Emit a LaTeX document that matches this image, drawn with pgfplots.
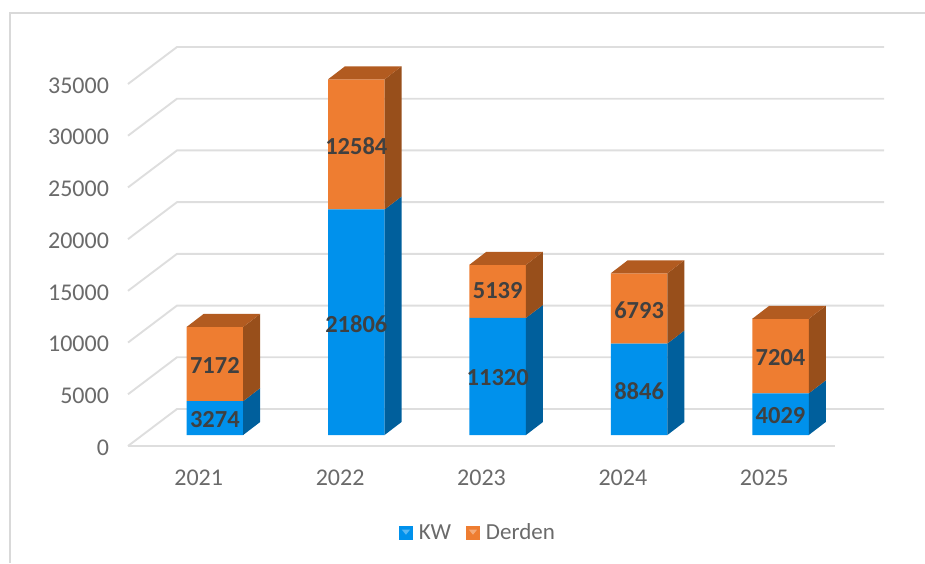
\documentclass[border=0pt]{standalone}
\usepackage{pgfplots}
\pgfplotsset{compat=1.18}
\usepackage{fontspec}
\setmainfont{Carlito}
\definecolor{gridc}{HTML}{DEDEDE}
\definecolor{framec}{HTML}{D9D9D9}
\definecolor{tickc}{HTML}{6A6A6A}
\definecolor{labc}{HTML}{404040}
\definecolor{bluef}{HTML}{0091EC}
\definecolor{blues}{HTML}{005F9C}
\definecolor{orangef}{HTML}{EE7D31}
\definecolor{oranges}{HTML}{984F1B}
\definecolor{oranget}{HTML}{B25B20}
\pgfplotsset{
  base/.style={scale only axis,width=707pt,height=362pt,
    xmin=-0.5,xmax=4.5,ymin=0,ymax=35000,clip=false},
  swatch/.style={legend image code/.code={
    \fill[##1] (0pt,-7.5pt) rectangle (14pt,7pt);
    \fill[white,opacity=.35] (3pt,3pt) -- (11pt,3pt) -- (7pt,-2pt) -- cycle;}},
  gl/.style={draw=gridc,line width=1.9pt,mark=none},
}
\begin{document}
\begin{tikzpicture}[x=1pt,y=1pt]
\path[use as bounding box] (0,0) rectangle (925,563);
\draw[framec,line width=2pt] (10,0) -- (10,550) -- (925,550);
% wall and floor
\begin{axis}[base,at={(128pt,117pt)},anchor=south west,
  axis line style={draw=none},major tick length=0pt,
  scaled y ticks=false,
  xtick={0,1,2,3,4},xticklabels={2021,2022,2023,2024,2025},
  ytick={0,5000,10000,15000,20000,25000,30000,35000},
  tick label style={font=\fontsize{24}{26}\selectfont,text=tickc},
  yticklabel style={xshift=-15.5pt,yshift=-1.5pt},
  xticklabel style={yshift=-20pt},
  /pgf/number format/.cd,fixed,1000 sep={},assume math mode=true]
\addplot[gl] coordinates {(-0.5,0) (4.5,0)};
\addplot[gl] coordinates {(-0.5,0) (-0.1535,3578) (4.8465,3578)};
\addplot[gl] coordinates {(-0.5,5000) (-0.1535,8578) (4.8465,8578)};
\addplot[gl] coordinates {(-0.5,10000) (-0.1535,13578) (4.8465,13578)};
\addplot[gl] coordinates {(-0.5,15000) (-0.1535,18578) (4.8465,18578)};
\addplot[gl] coordinates {(-0.5,20000) (-0.1535,23578) (4.8465,23578)};
\addplot[gl] coordinates {(-0.5,25000) (-0.1535,28578) (4.8465,28578)};
\addplot[gl] coordinates {(-0.5,30000) (-0.1535,33578) (4.8465,33578)};
\addplot[gl] coordinates {(-0.5,35000) (-0.1535,38578) (4.8465,38578)};
\end{axis}
% front faces
\begin{axis}[base,at={(144.2pt,128pt)},anchor=south west,hide axis,
  ybar stacked,bar width=56.5pt,
  legend columns=2,swatch,
  legend style={draw=none,fill=none,at={(0.472,-0.27)},anchor=center,
    font=\fontsize{23}{26}\selectfont,text=tickc,
    /tikz/every odd column/.append style={column sep=4pt},
    /tikz/every even column/.append style={column sep=13pt}}]
\addplot[fill=bluef,draw=none] coordinates {(0,3274) (1,21806) (2,11320) (3,8846) (4,4029)};
\addlegendentry{KW}
\addplot[fill=orangef,draw=none] coordinates {(0,7172) (1,12584) (2,5139) (3,6793) (4,7204)};
\addlegendentry{Derden}
\end{axis}
% side and top faces, data labels
\begin{axis}[base,at={(144.2pt,128pt)},anchor=south west,hide axis]
\pgfplotsset{every axis plot/.append style={mark=none,draw=none}}
\addplot[fill=blues] coordinates {(0.2,0) (0.32,1257) (0.32,4531) (0.2,3274)};
\addplot[fill=oranges] coordinates {(0.2,3274) (0.32,4531) (0.32,11703) (0.2,10446)};
\addplot[fill=oranget] coordinates {(-0.2,10446) (-0.08,11703) (0.32,11703) (0.2,10446)};
\addplot[fill=blues] coordinates {(1.2,0) (1.32,1257) (1.32,23063) (1.2,21806)};
\addplot[fill=oranges] coordinates {(1.2,21806) (1.32,23063) (1.32,35647) (1.2,34390)};
\addplot[fill=oranget] coordinates {(0.8,34390) (0.92,35647) (1.32,35647) (1.2,34390)};
\addplot[fill=blues] coordinates {(2.2,0) (2.32,1257) (2.32,12577) (2.2,11320)};
\addplot[fill=oranges] coordinates {(2.2,11320) (2.32,12577) (2.32,17716) (2.2,16459)};
\addplot[fill=oranget] coordinates {(1.8,16459) (1.92,17716) (2.32,17716) (2.2,16459)};
\addplot[fill=blues] coordinates {(3.2,0) (3.32,1257) (3.32,10103) (3.2,8846)};
\addplot[fill=oranges] coordinates {(3.2,8846) (3.32,10103) (3.32,16896) (3.2,15639)};
\addplot[fill=oranget] coordinates {(2.8,15639) (2.92,16896) (3.32,16896) (3.2,15639)};
\addplot[fill=blues] coordinates {(4.2,0) (4.32,1257) (4.32,5286) (4.2,4029)};
\addplot[fill=oranges] coordinates {(4.2,4029) (4.32,5286) (4.32,12490) (4.2,11233)};
\addplot[fill=oranget] coordinates {(3.8,11233) (3.92,12490) (4.32,12490) (4.2,11233)};
\addplot[only marks,mark=none,point meta=explicit symbolic,
  nodes near coords,
  every node near coord/.style={anchor=center,inner sep=0pt,text=labc,yshift=-1.5pt,
    font=\fontsize{24.5}{26}\selectfont\bfseries}]
  coordinates {(0,1637)[3274] (1,10903)[21806] (2,5660)[11320] (3,4423)[8846] (4,2014.5)[4029]
    (0,6860)[7172] (1,28098)[12584] (2,14130)[5139] (3,12242.5)[6793] (4,7631)[7204]};
\end{axis}
\end{tikzpicture}
\end{document}
